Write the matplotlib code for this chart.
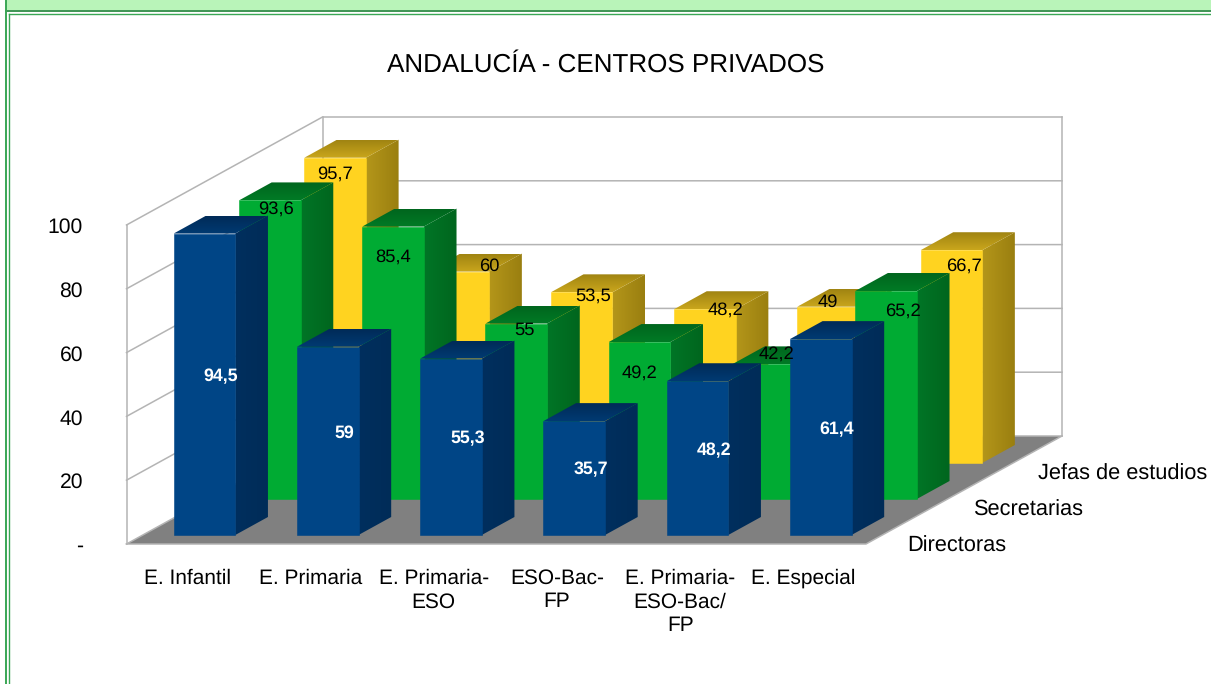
import numpy as np
import matplotlib
matplotlib.use('Agg')
import matplotlib.pyplot as plt
from matplotlib.colors import to_rgb
from matplotlib.patches import Polygon, Rectangle

plt.rcParams['font.family'] = ['Liberation Sans', 'DejaVu Sans']
plt.rcParams['text.hinting'] = 'no_hinting'

# data
categories = ['E. Infantil', 'E. Primaria', 'E. Primaria-\nESO', 'ESO-Bac-\nFP',
              'E. Primaria-\nESO-Bac/\nFP', 'E. Especial']
series_names = ['Directoras', 'Secretarias', 'Jefas de estudios']
directoras = [94.5, 59, 55.3, 35.7, 48.2, 61.4]
secretarias = [93.6, 85.4, 55, 49.2, 42.2, 65.2]
jefas = [95.7, 60, 53.5, 48.2, 49, 66.7]
y_ticks = [0, 20, 40, 60, 80, 100]
y_tick_labels = ['-', '20', '40', '60', '80', '100']

# hand placed data labels in the original, offset from the top centre of the front face (px)
green_offsets = [(6, 8), (0, 29), (8, 6), (0, 30), (14, -11), (17, 19)]
yellow_offsets = [(0, 15), (31, -6), (12, 3), (21, 0), (0, -6), (13, 15)]

# oblique projection of the chart box, in picture pixels
X0, Y0 = 126.5, 544
CAT_W = 123.25
DX, DY = 196, 108
Y_SCALE = 3.19
GRID = '#b4b4b4'


def project(cat, depth, value):
    return (X0 + cat * CAT_W + depth * DX, Y0 - depth * DY - value * Y_SCALE)


def fmt(v):
    return f'{v:g}'.replace('.', ',')


fig = plt.figure(figsize=(12.11, 6.84), dpi=100)
ax = fig.add_axes([0, 0, 1, 1])
ax.set_xlim(0, 1211)
ax.set_ylim(684, 0)
ax.axis('off')

# page frame
ax.add_patch(Rectangle((6, 0), 1205, 10, fc='#b9f4b9', ec='none', zorder=1))
ax.plot([6, 1211], [10.5, 10.5], color='#2e8b45', lw=1.3, zorder=2)
ax.plot([8.5, 1211], [14.3, 14.3], color='#3aa655', lw=1.0, zorder=2)
ax.plot([6, 6], [0, 684], color='#3aa655', lw=1.4, zorder=2)
ax.plot([8.7, 8.7], [14, 684], color='#3aa655', lw=1.0, zorder=2)

ax.text(605.5, 65.5, 'ANDALUCÍA - CENTROS PRIVADOS', ha='center', va='center',
        fontsize=18.7, zorder=50)

# walls and floor
floor = [project(0, 0, 0), project(6, 0, 0), project(6, 1, 0), project(0, 1, 0)]
ax.add_patch(Polygon(floor, fc='#808080', ec='none', zorder=3))
for t in y_ticks:
    pts = [project(0, 0, t), project(0, 1, t), project(6, 1, t)]
    ax.plot(*zip(*pts), color=GRID, lw=1.1, zorder=4 if t else 3.5)
ax.plot(*zip(project(0, 0, 0), project(0, 0, 100)), color=GRID, lw=1.1, zorder=4)
ax.plot(*zip(project(0, 1, 0), project(0, 1, 100)), color=GRID, lw=1.1, zorder=4)
ax.plot(*zip(project(6, 1, 0), project(6, 1, 100)), color=GRID, lw=1.1, zorder=4)
ax.plot(*zip(project(0, 0, 0), project(6, 0, 0), project(6, 1, 0)), color=GRID, lw=1.1, zorder=4)


def gradient_poly(pts, c1, c2, horizontal, z):
    # shaded bar faces: image clipped to the face polygon
    xs, ys = zip(*pts)
    c = np.linspace(to_rgb(c1), to_rgb(c2), 32)
    img = c[None, :, :] if horizontal else c[:, None, :]
    im = ax.imshow(img, extent=[min(xs), max(xs), max(ys), min(ys)], origin='upper',
                   aspect='auto', interpolation='bilinear', zorder=z)
    im.set_clip_path(Polygon(pts, transform=ax.transData))


def draw_bar(i, row, value, face, top_back, top_front, side_left, side_right, z):
    c0, c1 = i + 0.25, i + 0.75
    d0, d1 = (row + 0.25) / 3, (row + 0.75) / 3
    front = [project(c0, d0, 0), project(c1, d0, 0), project(c1, d0, value), project(c0, d0, value)]
    side = [project(c1, d0, 0), project(c1, d1, 0), project(c1, d1, value), project(c1, d0, value)]
    top = [project(c0, d0, value), project(c1, d0, value), project(c1, d1, value), project(c0, d1, value)]
    gradient_poly(side, side_left, side_right, True, z)
    gradient_poly(top, top_back, top_front, False, z + 0.1)
    ax.add_patch(Polygon(front, fc=face, ec=face, lw=0.4, zorder=z + 0.2))


series = [
    (jefas, 2, '#ffd320', '#a08412', '#c9a61c', '#b4961a', '#9a7f10'),
    (secretarias, 1, '#00ab33', '#00661e', '#007a25', '#007526', '#00661e'),
    (directoras, 0, '#004586', '#002b58', '#003a72', '#002f5e', '#002c58'),
]
z = 10
for values, row, *colors in series:
    for i, v in enumerate(values):
        draw_bar(i, row, v, *colors, z)
        z += 1

# data labels
for i, v in enumerate(directoras):
    x, y = project(i + 0.5, 0.5 / 3, v / 2)
    ax.text(x, y + 1, fmt(v), color='white', fontweight='bold', ha='center', va='center',
            fontsize=12.8, zorder=60)
for values, row, offsets in [(secretarias, 1, green_offsets), (jefas, 2, yellow_offsets)]:
    for i, v in enumerate(values):
        x, y = project(i + 0.5, (row + 0.25) / 3, v)
        ax.text(x + offsets[i][0], y + offsets[i][1] + 1, fmt(v), color='black', ha='center',
                va='center', fontsize=13.2, zorder=60)

# axis labels
for t, lab in zip(y_ticks, y_tick_labels):
    ax.text(83, project(0, 0, t)[1] + 2.5, lab, ha='right', va='center', fontsize=15.2, zorder=50)
for i, lab in enumerate(categories):
    ax.text(project(i + 0.5, 0, 0)[0] - 1, 568.5, lab, ha='center', va='top', fontsize=15,
            linespacing=1.27, zorder=50)
for row, name in enumerate(series_names):
    x, y = project(6, (row + 0.25) / 3, 0)
    ax.text(x + 25, y + 11.5, name, ha='left', va='center', fontsize=15.7, zorder=50)

fig.savefig('out.png', dpi=100)
